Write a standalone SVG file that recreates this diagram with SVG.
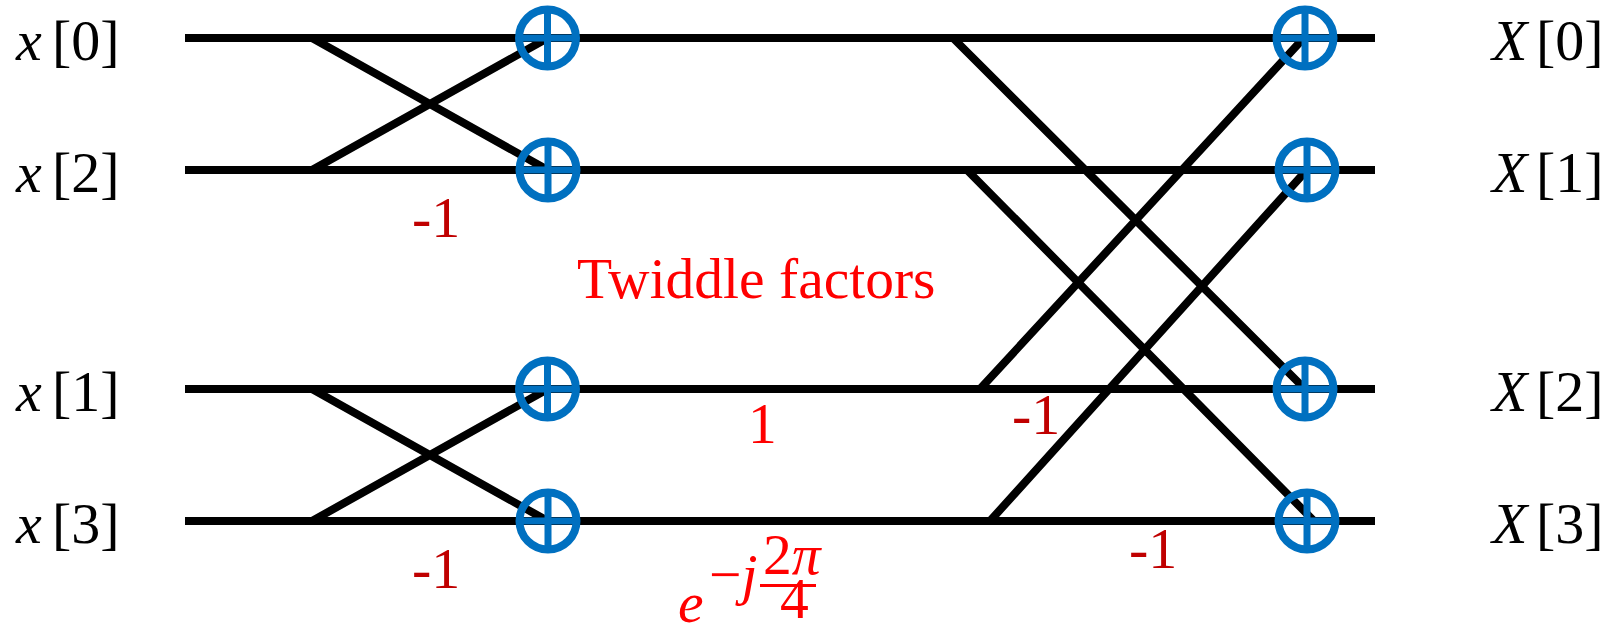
<svg xmlns="http://www.w3.org/2000/svg" width="1611" height="631" viewBox="0 0 1611 631">
<style>
.wire{stroke:#000;stroke-width:8;fill:none;stroke-linecap:butt}
.ring{fill:none;stroke:#0070C0;stroke-width:8}
.cross{stroke:#0070C0;stroke-width:7;fill:none}
.lbl{font-family:"Liberation Serif",serif;font-size:58px;fill:#000}
.it{font-style:italic}
.neg{font-family:"Liberation Serif",serif;font-size:58px;fill:#C00000}
.tw{font-family:"Liberation Serif",serif;font-size:57.5px;fill:#FF0000}
</style>
<defs>
<g id="plus"><circle class="ring" cx="0" cy="0" r="28.5"/><path class="cross" d="M-29 0H29M0 -29V29"/></g>
</defs>
<rect width="1611" height="631" fill="#fff"/>
<g id="connectors">
<path class="wire" d="M185 38H1375M185 170H1375M185 389H1375M185 521H1375"/>
<path class="wire" d="M312 38L546 169M312 170L546 39M312 389L546 520M312 521L546 390"/>
<path class="wire" d="M953 38L1303 387M967 170L1315 522M980 389L1301 41M990 521L1305 172"/>
</g>
<g id="in0"><text class="lbl" y="60"><tspan class="it" x="16">x</tspan><tspan x="52">[0]</tspan></text></g>
<g id="in2"><text class="lbl" y="192"><tspan class="it" x="16">x</tspan><tspan x="52">[2]</tspan></text></g>
<g id="in1"><text class="lbl" y="411"><tspan class="it" x="16">x</tspan><tspan x="52">[1]</tspan></text></g>
<g id="in3"><text class="lbl" y="543"><tspan class="it" x="16">x</tspan><tspan x="52">[3]</tspan></text></g>
<g id="out0"><text class="lbl" y="60"><tspan class="it" x="1492">X</tspan><tspan x="1536">[0]</tspan></text></g>
<g id="out1"><text class="lbl" y="192"><tspan class="it" x="1492">X</tspan><tspan x="1536">[1]</tspan></text></g>
<g id="out2"><text class="lbl" y="411"><tspan class="it" x="1492">X</tspan><tspan x="1536">[2]</tspan></text></g>
<g id="out3"><text class="lbl" y="543"><tspan class="it" x="1492">X</tspan><tspan x="1536">[3]</tspan></text></g>
<g id="s1a"><use href="#plus" x="547.5" y="38"/></g>
<g id="s1b"><use href="#plus" x="548" y="170"/></g>
<g id="s1c"><use href="#plus" x="547.5" y="389"/></g>
<g id="s1d"><use href="#plus" x="548" y="521"/></g>
<g id="s2a"><use href="#plus" x="1305" y="38"/></g>
<g id="s2b"><use href="#plus" x="1307" y="170"/></g>
<g id="s2c"><use href="#plus" x="1305" y="389"/></g>
<g id="s2d"><use href="#plus" x="1307" y="521"/></g>
<g id="labels">
<text class="neg" x="412" y="237">-1</text>
<text class="neg" x="412" y="588">-1</text>
<text class="neg" x="1012" y="434">-1</text>
<text class="neg" x="1129" y="568">-1</text>
<text class="tw" x="577" y="298">Twiddle factors</text>
<text class="tw" x="748" y="443">1</text>
<text class="tw" font-style="italic" font-size="62" x="678" y="622">e</text>
<text class="tw" font-size="38" x="709" y="594"><tspan>−</tspan><tspan font-style="italic">j</tspan></text>
<text class="tw" font-size="33" x="763" y="574">2<tspan font-style="italic">π</tspan></text>
<rect x="760" y="584" width="56" height="3" fill="#FF0000"/>
<text class="tw" font-size="33" x="780" y="618">4</text>
</g>
</svg>
